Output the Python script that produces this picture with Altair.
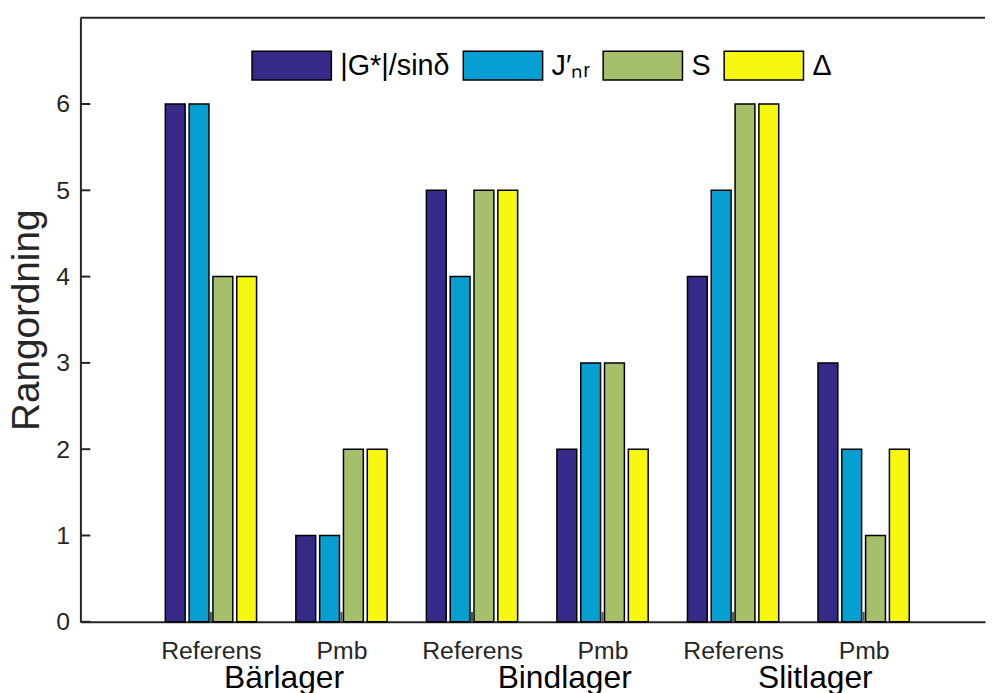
import altair as alt
import pandas as pd

# ---- data ----
groups = ["Referens", "Pmb", "Referens", "Pmb", "Referens", "Pmb"]
layers = ["Bärlager", "Bindlager", "Slitlager"]
layer_label_x = [1.56, 3.71, 5.63]
series = ["|G*|/sinδ", "J′ₙᵣ", "S", "Δ"]
colors = ["#352A87", "#079FD2", "#A6BF6B", "#F7F70F"]
g_vals = [6, 1, 5, 2, 4, 3]
j_vals = [6, 1, 4, 3, 5, 2]
s_vals = [4, 2, 5, 3, 6, 1]
d_vals = [4, 2, 5, 2, 6, 2]
ytick_values = [0, 1, 2, 3, 4, 5, 6]

W, H = 912, 609
BAR_STEP = 0.1824
BAR_HALF = 0.076
FONT = "Liberation Sans"
AX = "#262626"

rows = []
for gi, grp in enumerate(groups):
    pos = gi + 1
    for si, (name, vals) in enumerate(zip(series, [g_vals, j_vals, s_vals, d_vals])):
        c = pos + (si - 1.5) * BAR_STEP
        rows.append({"group": grp, "series": name, "value": vals[gi],
                     "x0": c - BAR_HALF, "x1": c + BAR_HALF, "order": si})
df = pd.DataFrame(rows)

xscale = alt.Scale(domain=[0, 6.93], nice=False, zero=False)
yscale = alt.Scale(domain=[0, 7], nice=False, zero=True)

label_expr = "[" + ",".join("'" + g + "'" for g in groups) + "][datum.value-1]"

xaxis = alt.Axis(values=list(range(1, len(groups) + 1)), labelExpr=label_expr,
                 ticks=False, grid=False, title=None,
                 labelFont=FONT, labelFontSize=25, labelColor=AX,
                 domainColor=AX, domainWidth=2, labelPadding=17)
yaxis = alt.Axis(values=ytick_values, ticks=False, grid=False,
                 title="Rangordning", titleFont=FONT, titleFontSize=39,
                 titleFontWeight="normal", titleColor=AX, titlePadding=9,
                 labelFont=FONT, labelFontSize=25, labelColor=AX,
                 domainColor=AX, domainWidth=2, labelPadding=11)

bars = alt.Chart(df).mark_rect(stroke="black", strokeWidth=1.5).encode(
    x=alt.X("x0:Q", scale=xscale, axis=xaxis),
    x2="x1:Q",
    y=alt.Y("value:Q", scale=yscale, axis=yaxis),
    y2=alt.Y2(datum=0),
    color=alt.Color("series:N",
                    scale=alt.Scale(domain=series, range=colors),
                    sort=series,
                    legend=alt.Legend(orient="none", legendX=172, legendY=7,
                                      direction="horizontal", columns=4, title=None,
                                      symbolType="M-1,-0.3625H1V0.3625H-1Z",
                                      symbolSize=6400, symbolStrokeColor="black",
                                      symbolStrokeWidth=1.5, symbolOpacity=1,
                                      labelFont=FONT, labelFontSize=29,
                                      labelColor="black", labelOffset=8,
                                      columnPadding=10, padding=0, labelLimit=0)),
)

xt_df = pd.DataFrame({"pos": list(range(1, len(groups) + 1))})
xticks = alt.Chart(xt_df).mark_rule(color="#555555", strokeWidth=2).encode(
    x=alt.X("pos:Q", scale=xscale, axis=xaxis),
    y=alt.value(H), y2=alt.value(H - 10))

yt_df = pd.DataFrame({"v": ytick_values})
yticks = alt.Chart(yt_df).mark_rule(color=AX, strokeWidth=2).encode(
    y=alt.Y("v:Q", scale=yscale, axis=yaxis),
    x=alt.value(0), x2=alt.value(10))

top = alt.Chart(pd.DataFrame({"a": [0]})).mark_rule(color=AX, strokeWidth=2).encode(
    y=alt.value(0), x=alt.value(0), x2=alt.value(W))

lab_df = pd.DataFrame({"name": layers, "x": layer_label_x})
labels = alt.Chart(lab_df).mark_text(font=FONT, fontSize=32, color="black",
                                     baseline="alphabetic", align="center").encode(
    x=alt.X("x:Q", scale=xscale, axis=xaxis),
    y=alt.value(676),
    text="name:N")

chart = alt.layer(xticks, bars, yticks, top, labels).properties(
    width=W, height=H,
    autosize=alt.AutoSizeParams(type="none"),
    padding={"left": 73, "top": 7, "right": 2, "bottom": 69},
).configure_view(stroke=None)

chart.save("out.html", embed_options={"renderer": "svg", "actions": False})
